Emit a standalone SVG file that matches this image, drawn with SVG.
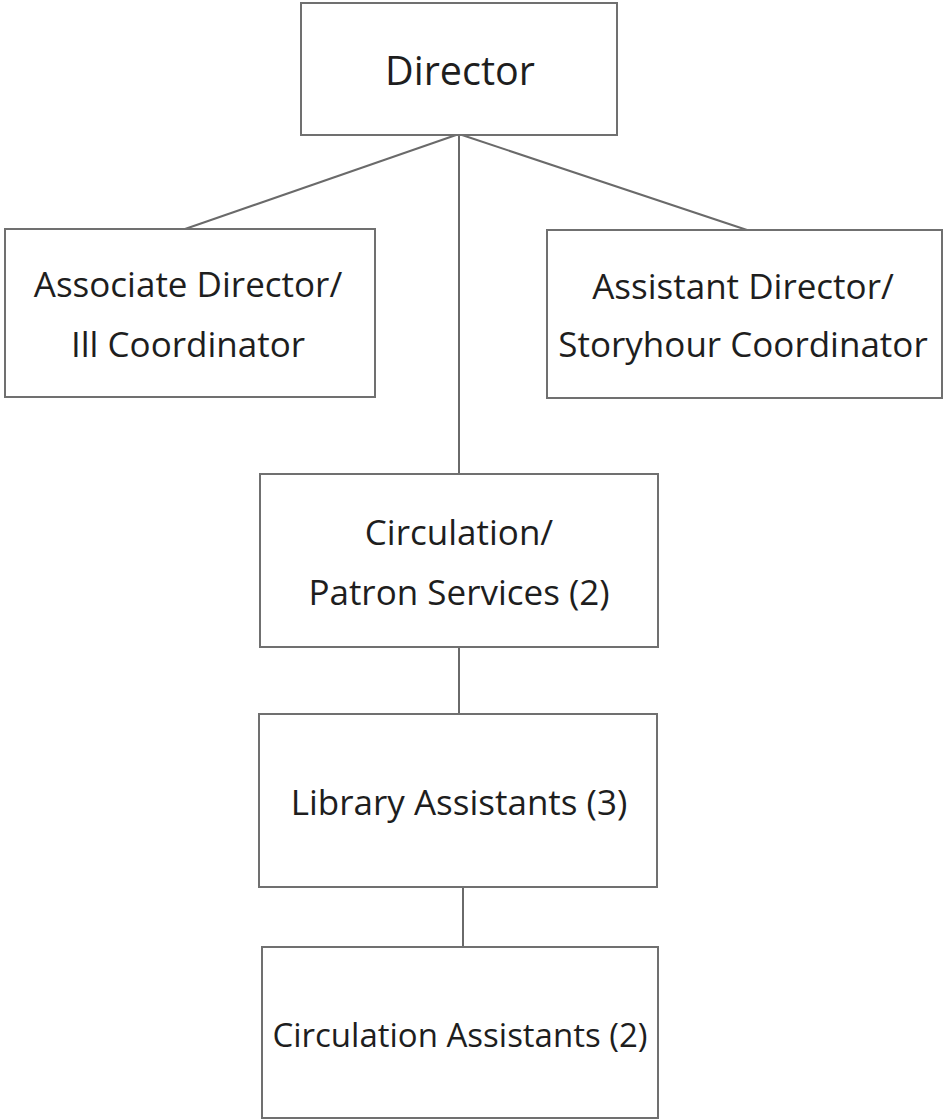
<svg xmlns="http://www.w3.org/2000/svg" width="943" height="1120" viewBox="0 0 943 1120">
<style>
.box{fill:#fff;stroke:#707070;stroke-width:2}
.conn line{stroke:#6a6a6a;stroke-width:2}
text{font-family:"Open Sans","Liberation Sans",sans-serif;fill:#1e1e1e;text-anchor:middle;font-size:35px}
.big{font-size:39.5px}
.sm{font-size:33px}
</style>
<rect width="943" height="1120" fill="#fff"/>
<g class="conn" id="connectors">
<line x1="459" y1="134" x2="185" y2="229"/>
<line x1="459" y1="134" x2="747" y2="230"/>
<line x1="459" y1="134" x2="459" y2="474"/>
<line x1="459" y1="647" x2="459" y2="714"/>
<line x1="463" y1="887" x2="463" y2="947"/>
</g>
<g id="director">
<rect class="box" x="301" y="3" width="316" height="132"/>
<text class="big" x="460" y="85">Director</text>
</g>
<g id="associate">
<rect class="box" x="5" y="229" width="370" height="168"/>
<text x="188" y="297">Associate Director/</text>
<text x="188" y="357">Ill Coordinator</text>
</g>
<g id="assistant">
<rect class="box" x="547" y="230" width="395" height="168"/>
<text x="743" y="299">Assistant Director/</text>
<text x="743" y="357">Storyhour Coordinator</text>
</g>
<g id="circulation">
<rect class="box" x="260" y="474" width="398" height="173"/>
<text x="459" y="545">Circulation/</text>
<text x="459" y="605">Patron Services (2)</text>
</g>
<g id="library">
<rect class="box" x="259" y="714" width="398" height="173"/>
<text x="459" y="815">Library Assistants (3)</text>
</g>
<g id="circassist">
<rect class="box" x="262" y="947" width="396" height="171"/>
<text class="sm" x="460" y="1047">Circulation Assistants (2)</text>
</g>
</svg>
